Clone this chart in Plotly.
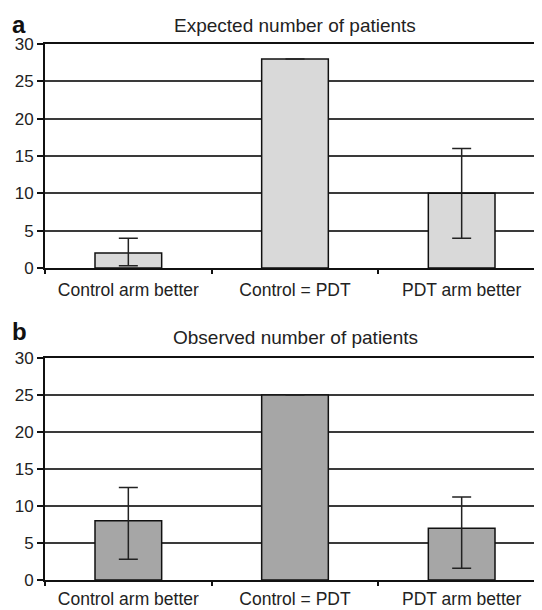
import plotly.graph_objects as go

categories = ["Control arm better", "Control = PDT", "PDT arm better"]

expected_values = [2, 28, 10]
expected_lower = [0.3, None, 4]
expected_upper = [4, None, 16]

observed_values = [8, 25, 7]
observed_lower = [2.8, None, 1.6]
observed_upper = [12.5, None, 11.2]

y_ticks = [0, 5, 10, 15, 20, 25, 30]

titles = ["Expected number of patients", "Observed number of patients"]
panel_letters = ["a", "b"]


def errs(vals, lo, hi):
    plus = [(h - v) if h is not None else None for v, h in zip(vals, hi)]
    minus = [(v - l) if l is not None else None for v, l in zip(vals, lo)]
    return plus, minus


# the page body adds an 8px offset; positions below are window pixels
OFF = 8
W, H = 542, 610
L, R = 45 - OFF, 545 - OFF   # plot area left/right in figure pixels

fig = go.Figure()

panels = [
    (expected_values, expected_lower, expected_upper, "#d9d9d9", "x", "y"),
    (observed_values, observed_lower, observed_upper, "#a6a6a6", "x2", "y2"),
]
for vals, lo, hi, col, xa, ya in panels:
    plus, minus = errs(vals, lo, hi)
    fig.add_trace(go.Bar(
        x=categories, y=vals, width=0.4,
        marker=dict(color=col, line=dict(color="#111111", width=1.5)),
        error_y=dict(type="data", symmetric=False, array=plus, arrayminus=minus,
                     color="#222222", thickness=1.5, width=9.5),
        xaxis=xa, yaxis=ya, showlegend=False, hoverinfo="skip",
    ))

font_family = "Liberation Sans, Arial, sans-serif"


def py(p):
    return 1 - (p - OFF) / H


def px(p):
    return (p - OFF - L) / (R - L)


def yax(top_px, bot_px):
    return dict(
        domain=[py(bot_px), py(top_px)], range=[0, 30],
        tickvals=y_ticks, ticks="outside", ticklen=6, tickwidth=1.5, tickcolor="#111",
        showline=True, linecolor="#111", linewidth=2,
        showgrid=True, gridcolor="#3a3a3a", gridwidth=1.5, zeroline=False,
        tickfont=dict(family=font_family, size=17, color="#222"),
        fixedrange=True,
    )


def xax(anchor, standoff):
    return dict(
        type="category", anchor=anchor, range=[-0.5, 2.5],
        tickson="boundaries", ticks="outside", ticklen=4, tickwidth=1.5, tickcolor="#111",
        showline=True, mirror=True, linecolor="#111", linewidth=2,
        showgrid=False, zeroline=False, ticklabelstandoff=standoff,
        tickfont=dict(family=font_family, size=17.5, color="#222"),
        fixedrange=True,
    )


fig.update_layout(
    width=W, height=H,
    margin=dict(l=L, r=W - R, t=0, b=0, autoexpand=False),
    paper_bgcolor="white", plot_bgcolor="white",
    xaxis=xax("y", 5), yaxis=yax(44, 268),
    xaxis2=xax("y2", 2), yaxis2=yax(358, 580),
    annotations=[
        dict(text=titles[0], x=px(295), y=py(26), xref="paper", yref="paper", showarrow=False,
             font=dict(family=font_family, size=19, color="#222"), xanchor="center", yanchor="middle"),
        dict(text=titles[1], x=px(295), y=py(337), xref="paper", yref="paper", showarrow=False,
             font=dict(family=font_family, size=19, color="#222"), xanchor="center", yanchor="middle"),
        dict(text="<b>" + panel_letters[0] + "</b>", x=px(19), y=py(24), xref="paper", yref="paper",
             showarrow=False, font=dict(family=font_family, size=24, color="#111"),
             xanchor="center", yanchor="middle"),
        dict(text="<b>" + panel_letters[1] + "</b>", x=px(19), y=py(332), xref="paper", yref="paper",
             showarrow=False, font=dict(family=font_family, size=24, color="#111"),
             xanchor="center", yanchor="middle"),
    ],
)

fig.write_html("out.html")
